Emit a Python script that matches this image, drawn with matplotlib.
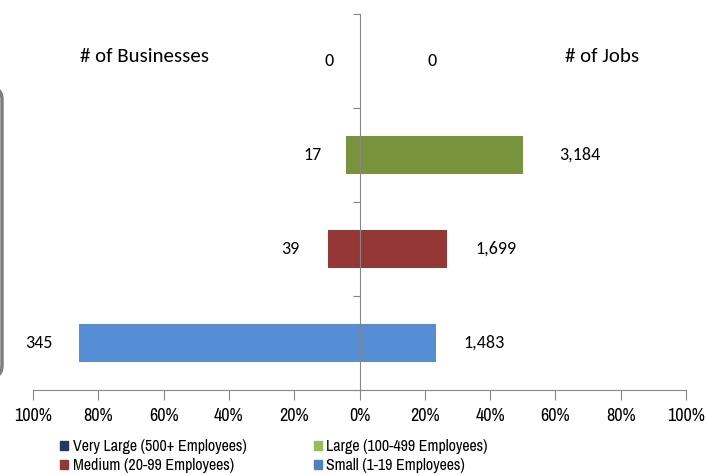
import matplotlib
matplotlib.use("Agg")
import matplotlib.pyplot as plt
from matplotlib.patches import Patch, FancyBboxPatch
from matplotlib.ticker import FuncFormatter
import numpy as np

categories = ["Small (1-19 Employees)", "Medium (20-99 Employees)",
              "Large (100-499 Employees)", "Very Large (500+ Employees)"]
businesses = [345, 39, 17, 0]
jobs = [1483, 1699, 3184, 0]
bar_colors = ["#558ED5", "#953735", "#77933C", "#1F3864"]
legend_colors = ["#4F81BD", "#953735", "#9BBB59", "#1F3864"]

bus_pct = np.array(businesses) / sum(businesses)
job_pct = np.array(jobs) / sum(jobs)

narrow = ["Archivo Narrow", "DejaVu Sans"]
lab_font = ["Carlito", "DejaVu Sans"]

fig = plt.figure(figsize=(7.06, 4.75), dpi=100)
ax = fig.add_axes([33/706, 1-390/475, (686-33)/706, (390-14)/475])

y = np.arange(len(categories))
ax.barh(y, -bus_pct, height=0.4, color=bar_colors, zorder=2)
ax.barh(y, job_pct, height=0.4, color=bar_colors, zorder=2)

ax.set_xlim(-1, 1)
ax.set_ylim(-0.5, 3.5)
grey = "#868686"
for s in ["top", "right"]:
    ax.spines[s].set_visible(False)
ax.spines["left"].set_position(("data", 0))
ax.spines["left"].set_color(grey)
ax.spines["bottom"].set_color(grey)
ax.spines["left"].set_zorder(3)
ax.set_yticks(np.arange(-0.5, 4, 1))
ax.set_yticklabels([])
ax.tick_params(axis="y", direction="out", length=5, color=grey)
ax.set_xticks(np.linspace(-1, 1, 11))
ax.xaxis.set_major_formatter(FuncFormatter(lambda v, p: f"{abs(v)*100:.0f}%"))
ax.tick_params(axis="x", direction="out", length=7, color=grey, pad=6,
               labelsize=13)
for t in ax.get_xticklabels():
    t.set_fontfamily(narrow)

left_off = [-26, -28, -24, -26]
right_off = [28, 29, 36, 68]
for i in range(len(categories)):
    ax.annotate(f"{businesses[i]:,}", (-bus_pct[i], y[i]), xytext=(left_off[i], 0),
                textcoords="offset pixels",
                ha="right", va="center", fontsize=13, family=lab_font)
    ax.annotate(f"{jobs[i]:,}", (job_pct[i], y[i]), xytext=(right_off[i], 0),
                textcoords="offset pixels",
                ha="left", va="center", fontsize=13, family=lab_font)

fig.text(80/706, 1-56/475, "# of Businesses", ha="left", va="center",
         fontsize=15, family=lab_font)
fig.text(565/706, 1-56/475, "# of Jobs", ha="left", va="center",
         fontsize=15, family=lab_font)

# partial rounded frame at left edge
frame = FancyBboxPatch((-0.3, 1-380/475), 0.3+2/706, (380-85)/475,
                       boxstyle="round,pad=0,rounding_size=0.03",
                       transform=fig.transFigure, fill=False,
                       edgecolor="#7F7F7F", linewidth=2.5, clip_on=False)
fig.patches.append(frame)

handles = [Patch(color=legend_colors[3]), Patch(color=legend_colors[1]),
           Patch(color=legend_colors[2]), Patch(color=legend_colors[0])]
labels = [categories[3], categories[1], categories[2], categories[0]]
leg = fig.legend(handles, labels, ncol=2, loc="center left",
                 bbox_to_anchor=(60/706, 1-456/475),
                 frameon=False, handlelength=0.5, handleheight=0.5, handletextpad=0.3,
                 columnspacing=4.2, labelspacing=0.25, borderaxespad=0, borderpad=0,
                 prop={"family": narrow, "size": 11.5})

fig.savefig("out.png", dpi=100)
